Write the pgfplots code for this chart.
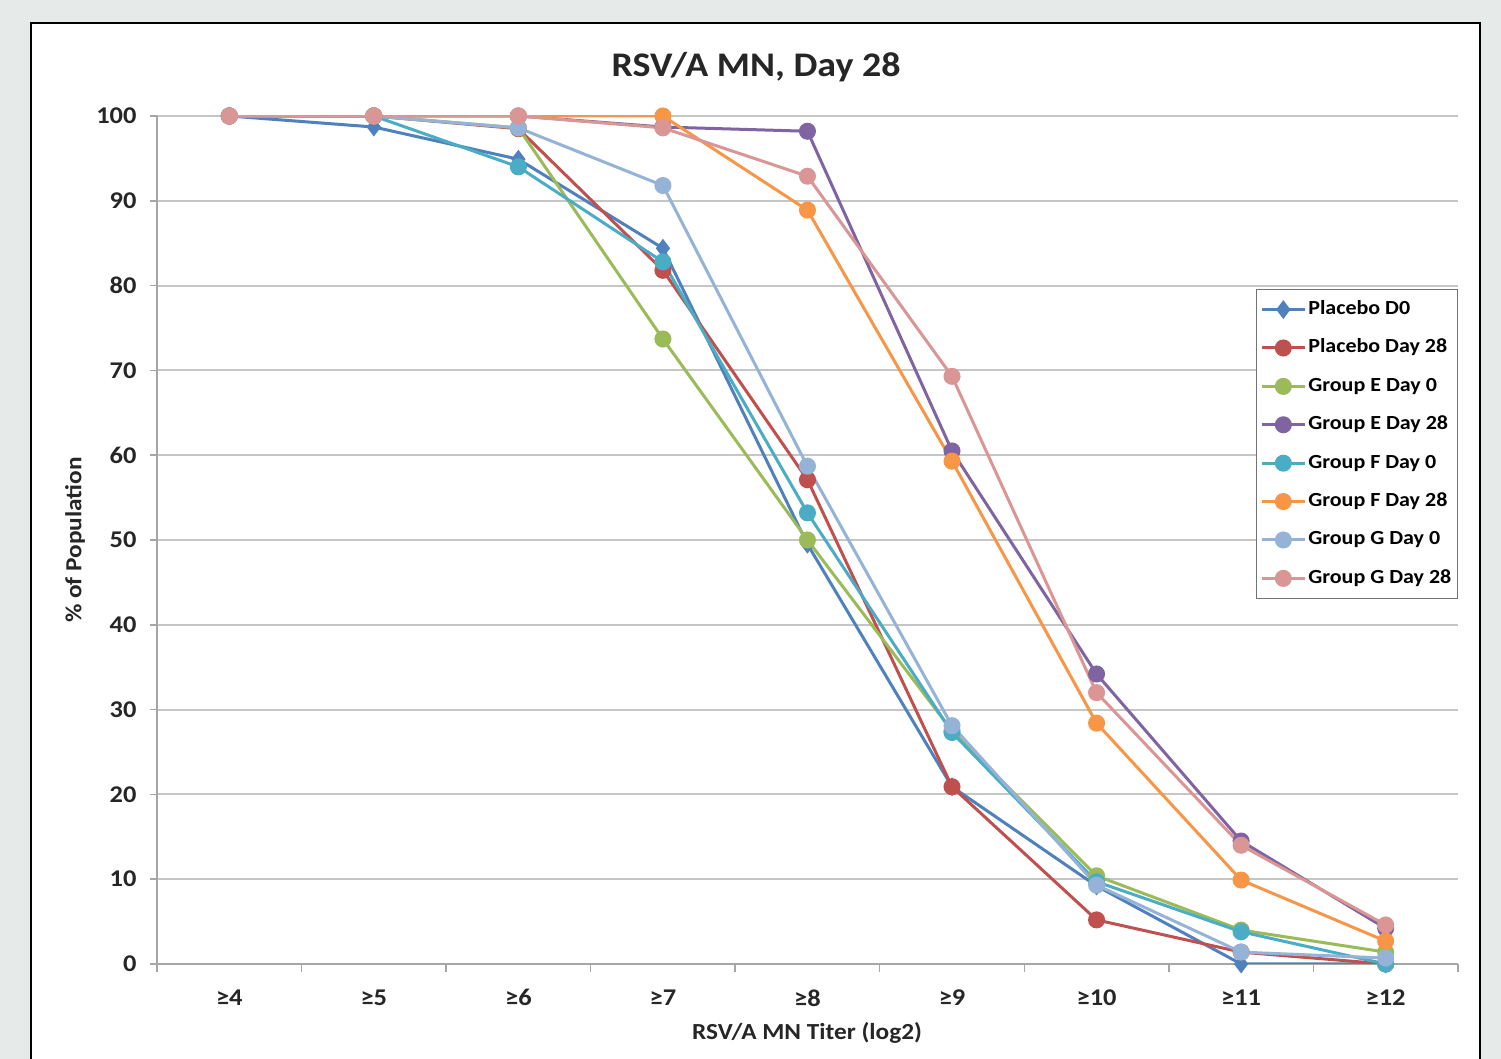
\documentclass[border=0pt]{standalone}
\usepackage{fontspec}
\setmainfont{Carlito}[FakeStretch=1.1]
\usepackage{pgfplots}
\pgfplotsset{compat=1.18}
\definecolor{bgc}{HTML}{E6EAE9}
\definecolor{gridc}{HTML}{C6C6C6}
\definecolor{axc}{HTML}{A6A6A6}
\definecolor{cA}{HTML}{4F81BD}
\definecolor{cB}{HTML}{C0504D}
\definecolor{cC}{HTML}{9BBB59}
\definecolor{cD}{HTML}{8064A2}
\definecolor{cE}{HTML}{4BACC6}
\definecolor{cF}{HTML}{F79646}
\definecolor{cG}{HTML}{95B3D7}
\definecolor{cH}{HTML}{D99694}
\begin{document}
\begin{tikzpicture}
\clip (0pt,0pt) rectangle (1501pt,1059pt);
\fill[bgc] (0pt,0pt) rectangle (1501pt,1059pt);
\draw[fill=white, line width=2pt] (31pt,-10pt) rectangle (1480pt,1036pt);
\begin{axis}[
  at={(157pt,95pt)}, anchor=south west,
  scale only axis, width=1301pt, height=848pt,
  xmin=-0.5, xmax=8.5, ymin=0, ymax=100,
  axis lines*=left,
  axis line style={draw=axc, line width=1.5pt},
  xtick={0,...,8},
  xticklabels={≥4,≥5,≥6,≥7,≥8,≥9,≥10,≥11,≥12},
  minor xtick={-0.5,0.5,...,8.5},
  xtick style={draw=none},
  minor tick length=8pt,
  minor x tick style={draw=axc, line width=1.5pt},
  ytick={0,10,...,100},
  major tick length=7pt,
  y tick style={draw=axc, line width=1.5pt},
  tick align=outside,
  ymajorgrids,
  major grid style={draw=gridc, line width=2pt},
  /pgf/number format/assume math mode=true,
  ticklabel style={font=\fontsize{24}{26}\selectfont\bfseries, text=black!85},
  xticklabel style={yshift=-15pt},
  yticklabel style={xshift=-10pt},
  legend style={at={(1,0.796)}, anchor=north east, draw=black!55, line width=1.2pt,
    font=\fontsize{20}{22}\selectfont\bfseries, row sep=20.4pt, inner xsep=4pt, inner ysep=11pt,
    nodes={text height=14pt, text depth=4pt, inner xsep=2pt, inner ysep=0pt},
    cells={anchor=west}},
  legend image code/.code={\draw[mark repeat=2,mark phase=2,#1] plot coordinates {(0pt,0pt)(21.5pt,0pt)(43pt,0pt)};},
  every axis plot/.append style={line width=3pt},
]
\addplot[cA, mark=diamond*, mark size=7pt] coordinates {(0,100)(1,98.7)(2,94.9)(3,84.4)(4,49.5)(5,20.9)(6,9.2)(7,0)(8,0)};
\addlegendentry{Placebo D0}
\addplot[cB, mark=*, mark size=7pt] coordinates {(0,100)(1,100)(2,98.5)(3,81.8)(4,57.1)(5,20.9)(6,5.2)(7,1.4)(8,0)};
\addlegendentry{Placebo Day 28}
\addplot[cC, mark=*, mark size=7pt] coordinates {(0,100)(1,100)(2,98.6)(3,73.7)(4,50.0)(5,27.5)(6,10.4)(7,4.0)(8,1.4)};
\addlegendentry{Group E Day 0}
\addplot[cD, mark=*, mark size=7pt] coordinates {(0,100)(1,100)(2,100)(3,98.7)(4,98.2)(5,60.5)(6,34.2)(7,14.5)(8,4.2)};
\addlegendentry{Group E Day 28}
\addplot[cE, mark=*, mark size=7pt] coordinates {(0,100)(1,100)(2,94.0)(3,82.8)(4,53.2)(5,27.3)(6,9.7)(7,3.8)(8,0)};
\addlegendentry{Group F Day 0}
\addplot[cF, mark=*, mark size=7pt] coordinates {(0,100)(1,100)(2,100)(3,100)(4,88.9)(5,59.3)(6,28.4)(7,9.9)(8,2.7)};
\addlegendentry{Group F Day 28}
\addplot[cG, mark=*, mark size=7pt] coordinates {(0,100)(1,100)(2,98.6)(3,91.8)(4,58.7)(5,28.1)(6,9.3)(7,1.4)(8,0.7)};
\addlegendentry{Group G Day 0}
\addplot[cH, mark=*, mark size=7pt] coordinates {(0,100)(1,100)(2,100)(3,98.6)(4,92.9)(5,69.3)(6,32.0)(7,14.0)(8,4.6)};
\addlegendentry{Group G Day 28}
\end{axis}
\node[font=\fontsize{34.5}{36}\selectfont\bfseries, text=black!85] at (756pt,992pt) {RSV/A MN, Day 28};
\node[font=\fontsize{23}{25}\selectfont\bfseries, text=black!85] at (807pt,26pt) {RSV/A MN Titer (log2)};
\node[font=\fontsize{23}{25}\selectfont\bfseries, text=black!85, rotate=90] at (75pt,519pt) {\% of Population};
\end{tikzpicture}
\end{document}
